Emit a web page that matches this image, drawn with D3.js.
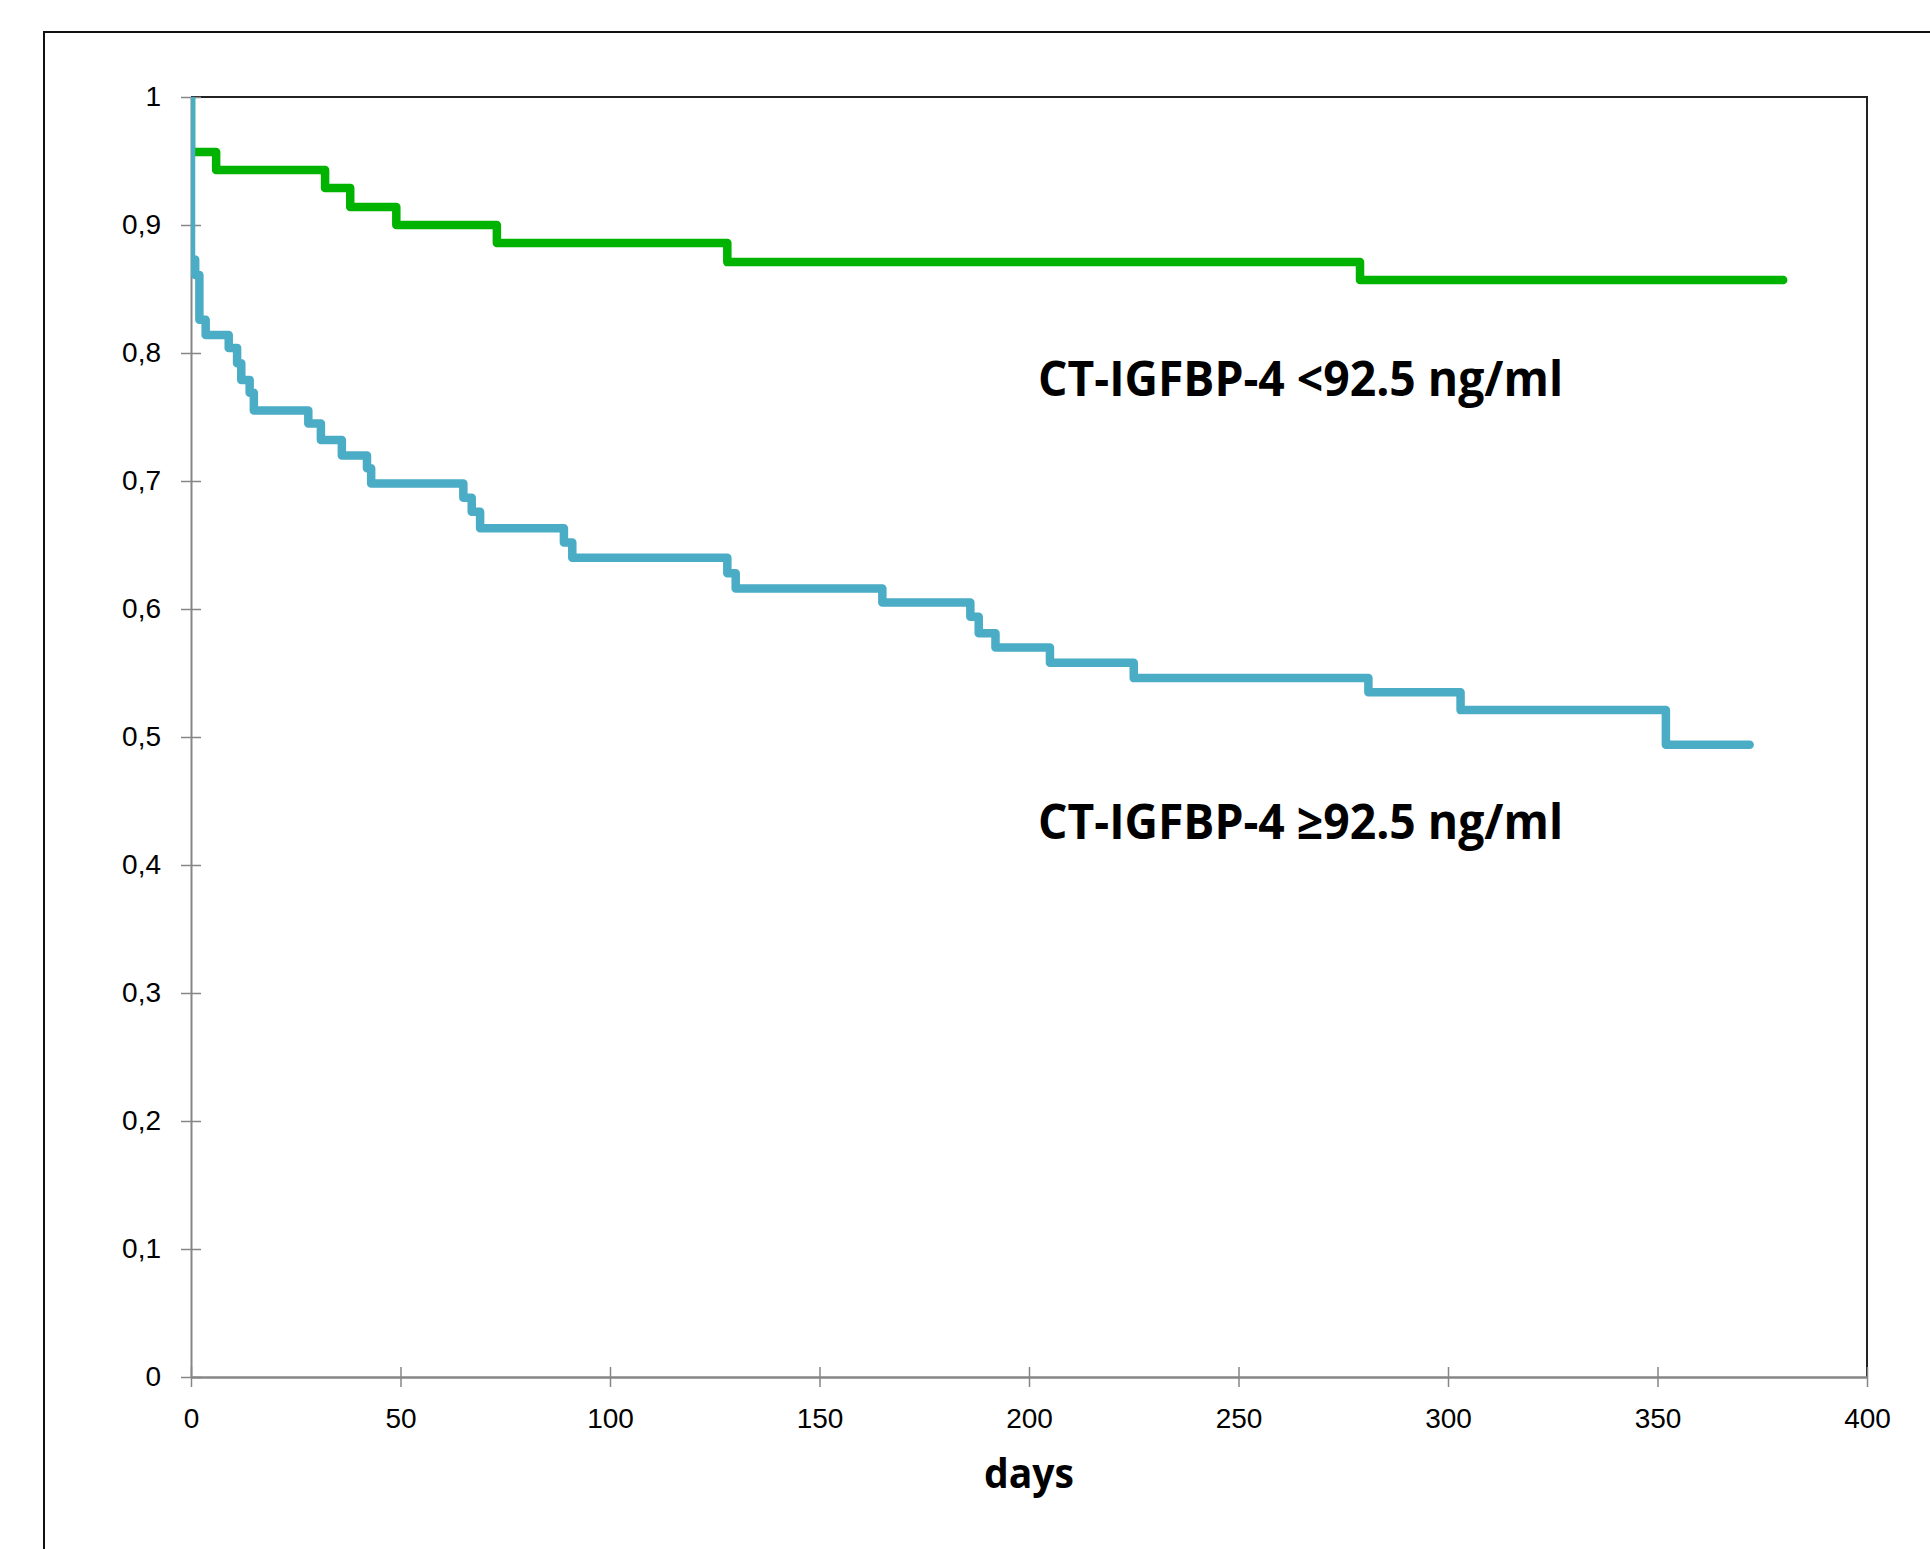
<!DOCTYPE html>
<html lang="en">
  <head>
    <meta charset="UTF-8" />
    <title>Survival by CT-IGFBP-4</title>
    <script src="https://d3js.org/d3.v7.min.js"></script>
    <style>
      body { margin: 0; background: #fff; }
      svg { display: block; font-family: 'Open Sans', 'DejaVu Sans', sans-serif; }
    </style>
  </head>

  <body>
    <div id="graph"></div>
    <script>
      // days / survival (step points)
      const greenDays = [0, 0, 6, 32, 38, 49, 73, 128, 279, 380]
      const greenSurv = [1, 0.957, 0.943, 0.929, 0.914, 0.9, 0.886, 0.871, 0.857, 0.857]
      const blueDays = [0, 0, 1, 2, 3.5, 9, 11, 12, 14, 15, 28, 31, 36, 42, 43, 65, 67, 69, 89, 91,
        128, 130, 165, 186, 188, 192, 205, 225, 281, 303, 352, 372]
      const blueSurv = [1, 0.873, 0.861, 0.826, 0.814, 0.804, 0.792, 0.779, 0.769, 0.755, 0.745, 0.732,
        0.72, 0.71, 0.698, 0.687, 0.676, 0.663, 0.652, 0.64, 0.628, 0.616, 0.605, 0.594, 0.581, 0.57,
        0.558, 0.546, 0.535, 0.521, 0.494, 0.494]
      const xTicks = [0, 50, 100, 150, 200, 250, 300, 350, 400]
      const yTicks = [0, 0.1, 0.2, 0.3, 0.4, 0.5, 0.6, 0.7, 0.8, 0.9, 1]
      const labelLow = 'CT-IGFBP-4 <92.5 ng/ml'
      const labelHigh = 'CT-IGFBP-4 ≥92.5 ng/ml'
      const xTitle = 'days'

      const W = 1930, H = 1549
      const pL = 191, pR = 1867, pT = 97, pB = 1377

      const svg = d3.select('#graph').append('svg').attr('width', W).attr('height', H)

      // outer frame (runs off the right and bottom edge)
      svg.append('rect')
        .attr('x', 44).attr('y', 32).attr('width', W).attr('height', H)
        .attr('fill', 'none').attr('stroke', '#111').attr('stroke-width', 2)

      const xScale = d3.scaleLinear().domain([0, 400]).range([pL, pR])
      const yScale = d3.scaleLinear().domain([0, 1]).range([pB, pT])

      // plot border top + right
      svg.append('path')
        .attr('d', `M${pL},${pT}H${pR}V${pB}`)
        .attr('fill', 'none').attr('stroke', '#222').attr('stroke-width', 2)

      // axes, ticks cross the axis line
      const fmt = (d) => String(d).replace('.', ',')
      const yAxis = d3.axisLeft(yScale).tickValues(yTicks).tickFormat(fmt).tickSizeInner(10).tickSizeOuter(0).tickPadding(20)
      const gy = svg.append('g').attr('transform', `translate(${pL},0)`).attr('color', '#868686').call(yAxis)
      gy.selectAll('.tick line').attr('x1', 10).attr('stroke-width', 1.5)
      gy.select('.domain').attr('stroke-width', 2)
      gy.selectAll('text').attr('fill', '#000').attr('font-size', 28)

      const xAxis = d3.axisBottom(xScale).tickValues(xTicks).tickSizeInner(10).tickSizeOuter(0).tickPadding(21)
      const gx = svg.append('g').attr('transform', `translate(0,${pB})`).attr('color', '#868686').call(xAxis)
      gx.selectAll('.tick line').attr('y1', -10).attr('stroke-width', 1.5)
      gx.select('.domain').attr('stroke-width', 2.5)
      gx.selectAll('text').attr('fill', '#000').attr('font-size', 28)

      // survival curves
      svg.append('clipPath').attr('id', 'plot')
        .append('rect').attr('x', pL).attr('y', pT).attr('width', pR - pL).attr('height', pB - pT)

      const line = d3.line().x((d) => xScale(d[0])).y((d) => yScale(d[1])).curve(d3.curveStepAfter)
      const curves = svg.append('g').attr('clip-path', 'url(#plot)')
      const series = [
        { pts: d3.zip(greenDays, greenSurv), color: '#00b300' },
        { pts: d3.zip(blueDays, blueSurv), color: '#4bacc6' }
      ]
      curves.selectAll('path')
        .data(series)
        .join('path')
        .attr('d', (d) => line(d.pts))
        .attr('fill', 'none')
        .attr('stroke', (d) => d.color)
        .attr('stroke-width', 8.5)
        .attr('stroke-linejoin', 'round')
        .attr('stroke-linecap', 'round')

      // group labels
      const labels = svg.append('g').attr('font-weight', 700).attr('font-size', 48).attr('fill', '#000')
      labels.append('text').attr('x', 1038).attr('y', 396).attr('textLength', 525).attr('lengthAdjust', 'spacingAndGlyphs').text(labelLow)
      labels.append('text').attr('x', 1038).attr('y', 839).attr('textLength', 525).attr('lengthAdjust', 'spacingAndGlyphs').text(labelHigh)

      svg.append('text')
        .attr('x', (pL + pR) / 2).attr('y', 1488)
        .attr('text-anchor', 'middle').attr('font-weight', 700).attr('font-size', 42)
        .attr('textLength', 90).attr('lengthAdjust', 'spacingAndGlyphs')
        .text(xTitle)
    </script>
  </body>
</html>
